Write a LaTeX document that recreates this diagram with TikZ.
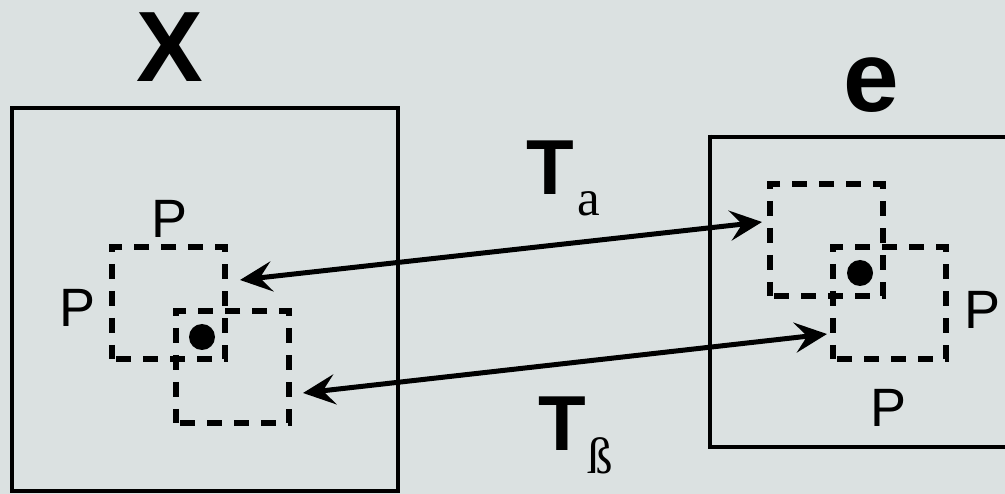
\documentclass[tikz,border=0pt]{standalone}
\usepackage{fontspec}
\setmainfont{Liberation Sans}
\newfontfamily\serifface{Liberation Serif}
\usetikzlibrary{arrows.meta}
\definecolor{bgcol}{RGB}{219,225,225}
\tikzset{
  frame/.style={draw=black, line width=4.6pt},
  window/.style={draw=black, line width=5.6pt, dash pattern=on 15pt off 12pt, dash phase=-4pt, minimum width=113pt, minimum height=112pt, inner sep=0pt, outer sep=0pt, anchor=north west},
  pixel/.style={circle, fill=black, minimum size=26pt, inner sep=0pt},
  bigletter/.style={inner sep=0pt, font=\fontsize{100}{100}\selectfont\bfseries},
  tletter/.style={inner sep=0pt, font=\fontsize{78}{78}\selectfont\bfseries},
  subletter/.style={inner sep=0pt, font=\fontsize{51}{51}\selectfont\serifface},
  plabel/.style={inner sep=0pt, font=\fontsize{54}{54}\selectfont},
  maparrow/.style={line width=5pt, {Stealth[length=32pt,width=30pt,inset=12pt]}-{Stealth[length=32pt,width=30pt,inset=12pt]}}
}
\begin{document}
\begin{tikzpicture}[x=1pt,y=-1pt]
\fill[bgcol] (0,0) rectangle (1005,494);
\useasboundingbox (0,0) rectangle (1005,494);
% left image
\draw[frame] (12,108) rectangle (398,491);
\node[bigletter] (X) at (170,47.5) {X};
\node[window] (l1) at (112,247) {};
\node[window] (l2) at (176,311) {};
\node[pixel] (ldot) at (202,337) {};
\node[plabel] (lp1) at (170,218.5) {P};
\node[plabel] (lp2) at (78,307.5) {P};
% right image
\draw[frame] (710,137) -- (1030,137);
\draw[frame] (710,447) -- (1030,447);
\draw[frame] (710,134.7) -- (710,449.3);
\node[bigletter] (E) at (871,85) {e};
\node[window] (r1) at (770,184) {};
\node[window] (r2) at (833,247) {};
\node[pixel] (rdot) at (860,273) {};
\node[plabel] (rp1) at (983,310) {P};
\node[plabel] (rp2) at (889,407.5) {P};
% arrows
\coordinate (a1) at (240,280);
\coordinate (b1) at (762,222);
\coordinate (a2) at (303,393);
\coordinate (b2) at (827,334);
\draw[maparrow] (a1) -- (b1);
\draw[maparrow] (a2) -- (b2);
% labels
\node[tletter] (Ta) at (550.5,167.5) {T};
\node[subletter] (sa) at (588.5,204) {a};
\node[tletter] (Tb) at (562.5,423.5) {T};
\node[subletter] (sb) at (600,456) {ß};
\end{tikzpicture}
\end{document}
